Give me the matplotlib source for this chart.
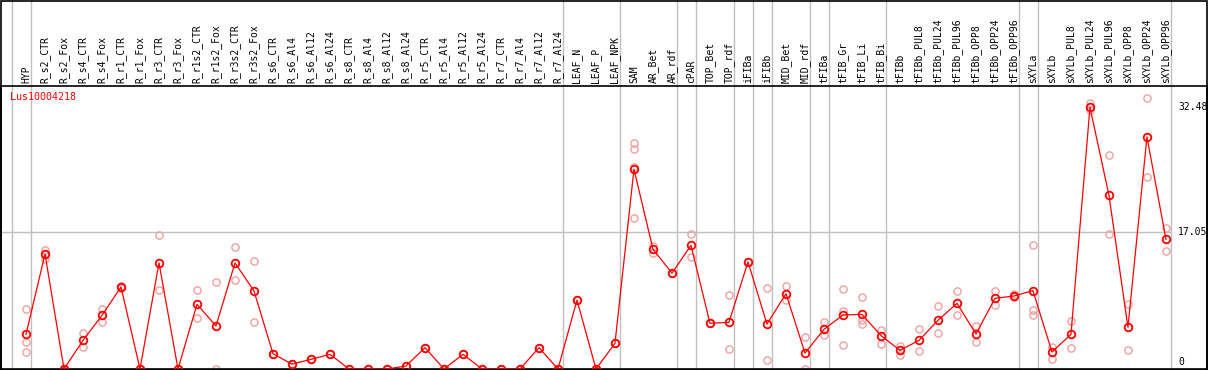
import matplotlib
matplotlib.use("Agg")
import matplotlib.pyplot as plt
from matplotlib.patches import Rectangle

# === Data ===
gene = "Lus10004218"

samples = [
    "HYP", "R_s2_CTR", "R_s2_Fox", "R_s4_CTR", "R_s4_Fox", "R_r1_CTR", "R_r1_Fox",
    "R_r3_CTR", "R_r3_Fox", "R_r1s2_CTR", "R_r1s2_Fox", "R_r3s2_CTR", "R_r3s2_Fox",
    "R_s6_CTR", "R_s6_Al4", "R_s6_Al12", "R_s6_Al24", "R_s8_CTR", "R_s8_Al4",
    "R_s8_Al12", "R_s8_Al24", "R_r5_CTR", "R_r5_Al4", "R_r5_Al12", "R_r5_Al24",
    "R_r7_CTR", "R_r7_Al4", "R_r7_Al12", "R_r7_Al24", "LEAF_N", "LEAF_P", "LEAF_NPK",
    "SAM", "AR_Bet", "AR_rdf", "cPAR", "TOP_Bet", "TOP_rdf", "iFIBa", "iFIBb",
    "MID_Bet", "MID_rdf", "tFIBa", "tFIB_Gr", "tFIB_Li", "tFIB_Bi", "tFIBb",
    "tFIBb_PUL8", "tFIBb_PUL24", "tFIBb_PUL96", "tFIBb_OPP8", "tFIBb_OPP24",
    "tFIBb_OPP96", "sXYLa", "sXYLb", "sXYLb_PUL8", "sXYLb_PUL24", "sXYLb_PUL96",
    "sXYLb_OPP8", "sXYLb_OPP24", "sXYLb_OPP96",
]

means = [
    4.3, 14.27, 0, 3.55, 6.66, 10.18, 0, 13.16, 0, 8.03, 5.34, 13.16, 9.68,
    1.9, 0.6, 1.2, 1.82, 0, 0, 0, 0.37, 2.65, 0, 1.82, 0, 0, 0, 2.65, 0,
    8.56, 0, 3.19, 24.8, 14.86, 11.9, 15.35, 5.67, 5.79, 13.3, 5.58, 9.35, 1.98,
    4.92, 6.7, 6.78, 4.14, 2.32, 3.55, 6.04, 8.15, 4.34, 8.77, 9.06, 9.72,
    2.11, 4.3, 32.48, 21.56, 5.18, 28.8, 16.1,
]

replicates = [
    [7.45, 3.4, 2.1], [14.8, 14.3, 13.7], [0, 0], [4.47, 2.69], [7.45, 5.8],
    [10.3, 10.1], [0, 0], [16.6, 9.8], [0, 0], [9.8, 6.3], [10.8, 0],
    [15.1, 11.1], [13.4, 5.8], [1.9, 1.9], [0.6, 0.6], [1.2, 1.2], [1.82, 1.82],
    [0, 0], [0, 0], [0, 0], [0.37, 0.37], [2.65, 2.65], [0, 0], [1.82, 1.82],
    [0, 0], [0, 0], [0, 0], [2.65, 2.65], [0, 0], [8.56, 8.56], [0, 0],
    [3.19, 3.19], [28.0, 27.3, 25.1, 18.7], [15.27, 14.36], [11.9, 11.9],
    [16.76, 13.86], [5.67, 5.67], [9.18, 2.44], [13.3, 13.3], [10.0, 1.08],
    [10.3, 8.56], [3.93, 0], [5.87, 4.22], [9.89, 7.24, 2.98], [8.9, 6.12, 5.58],
    [4.84, 3.06], [2.9, 1.74], [4.92, 2.19], [7.78, 4.43], [9.68, 6.7],
    [5.34, 3.31], [9.68, 7.94], [9.27, 8.9], [15.35, 7.32, 6.66], [2.77, 1.28],
    [5.92, 2.57], [32.98, 32.15], [26.56, 16.72], [8.03, 2.32], [33.6, 23.8],
    [17.5, 14.65],
]

# gray separators drawn after these sample indices
group_ends = [-1, 0, 28, 31, 34, 35, 37, 38, 39, 41, 42, 45, 52, 53, 60]

ytick_vals = [0, 17.05, 32.48]
ytick_labels = ["0", "17.05", "32.48"]

# === Plot ===
W, H = 1209, 370
fig = plt.figure(figsize=(W / 100, H / 100), dpi=100)
ax_l, ax_r, ax_t, ax_b = 1, 1207, 86, 369
ax = fig.add_axes([ax_l / W, (H - ax_b) / H, (ax_r - ax_l) / W, (ax_b - ax_t) / H])

x = list(range(len(samples)))
ax.set_xlim(-1.316, 62.16)
ax.set_ylim(0, 35.12)

font = "DejaVu Sans Mono"
grey = "#c0c0c0"

# separators, running up through the header
top_frac = ax_b / (ax_b - ax_t)
for g in group_ends:
    ax.axvline(g + 0.25, 0, top_frac, color=grey, lw=1, clip_on=False, zorder=1)

ax.hlines(ytick_vals[1], -1.316, group_ends[-1] + 0.25, color=grey, lw=1, zorder=1)

# replicate points
for i, reps in enumerate(replicates):
    ax.plot([i] * len(reps), reps, "o", ms=5.2, mfc="none", mec="#f0a0a0",
            mew=1.0, zorder=2)

# mean line
ax.plot(x, means, color="red", lw=0.9, marker="o", ms=5.5, mfc="none",
        mec="red", mew=1.3, zorder=3)

# sample labels in header
for i, name in enumerate(samples):
    ax.text(i, 1.011, name, transform=ax.get_xaxis_transform(), rotation=90,
            ha="center", va="bottom", fontsize=7, family=font, color="black")

# gene name
ax.text(9 / (ax_r - ax_l), 1 - 11 / (ax_b - ax_t), gene, transform=ax.transAxes,
        ha="left", va="center", fontsize=7.2, family=font, color="red")

# value labels on the right
for v, lab in zip(ytick_vals, ytick_labels):
    dy = 5 if v == 0 else 0
    ax.annotate(lab, xy=((1178 - ax_l) / (ax_r - ax_l), v),
                xycoords=ax.get_yaxis_transform(), xytext=(0, dy),
                textcoords="offset points", ha="left", va="center",
                fontsize=7, family=font, color="black", annotation_clip=False)

ax.set_xticks([])
ax.set_yticks([])
for s in ax.spines.values():
    s.set_color("black")
    s.set_linewidth(1.2)

# outer frame including the header
fig.patches.append(Rectangle((ax_l / W, 0), (ax_r - ax_l) / W, 1 - 0.5 / H,
                             transform=fig.transFigure, fill=False,
                             edgecolor="black", lw=1.2))

fig.savefig("out.png", dpi=100)
